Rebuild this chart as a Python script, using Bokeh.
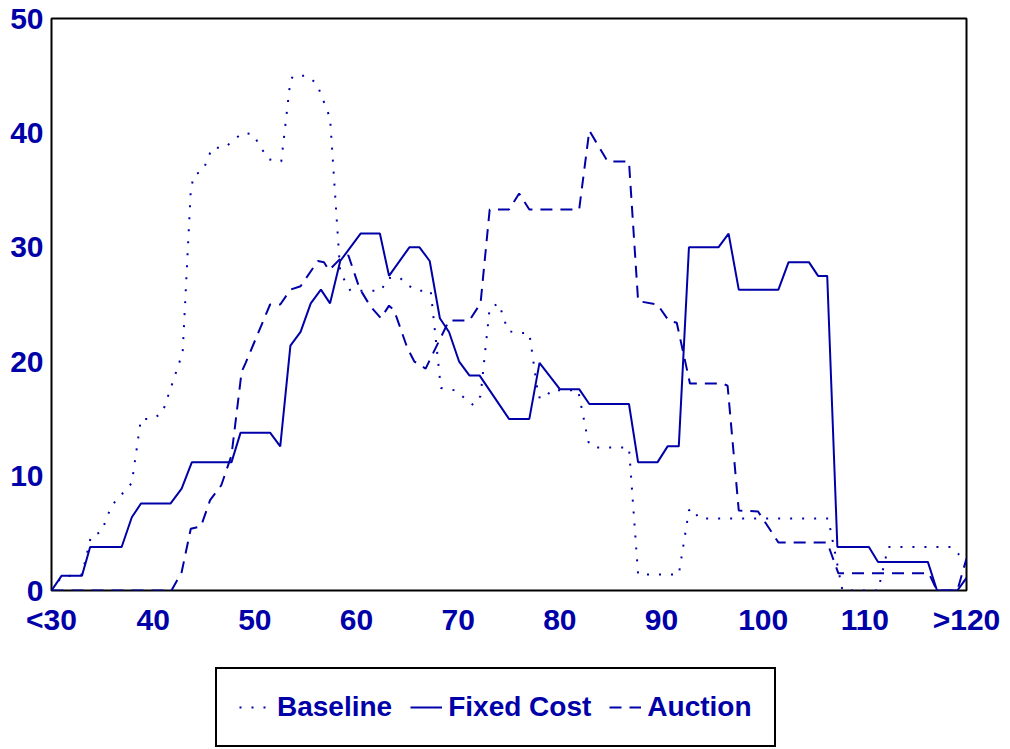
from bokeh.plotting import figure
from bokeh.models import Range1d, FixedTicker, Legend, LegendItem
from bokeh.layouts import column
from bokeh.embed import file_html
from bokeh.resources import INLINE

# ---- data ----
x_ticks = [30, 40, 50, 60, 70, 80, 90, 100, 110, 120]
x_tick_labels = ["<30", "40", "50", "60", "70", "80", "90", "100", "110", ">120"]
y_ticks = [0, 10, 20, 30, 40, 50]

baseline_x = [30.0, 31.0, 33.0, 33.9, 34.9, 35.9, 37.9, 38.8, 39.9, 40.9, 42.9, 43.7,
              44.0, 44.9, 45.8, 47.0, 48.8, 49.8, 51.3, 52.6, 53.5, 53.8, 55.1, 56.1,
              57.4, 58.4, 59.4, 62.4, 63.1, 64.2, 65.0, 66.0, 67.3, 68.3, 69.7, 71.5,
              72.2, 73.1, 74.0, 74.9, 75.8, 77.0, 77.9, 78.6, 79.1, 81.8, 82.8, 83.3,
              86.8, 87.7, 91.7, 92.7, 93.0, 93.7, 106.4, 107.4, 107.8, 111.3, 112.3,
              118.5, 119.2, 120.0]
baseline_y = [0, 1.2, 1.4, 4.8, 5.1, 7.4, 9.4, 15.0, 15.0, 15.5, 20.8, 35.0,
              36.3, 36.7, 38.7, 38.7, 40.0, 39.9, 37.7, 37.5, 44.6, 45.0, 45.0, 44.3,
              41.3, 27.8, 26.2, 26.2, 27.3, 27.4, 26.7, 26.2, 26.2, 17.7, 17.5, 16.2,
              17.0, 24.7, 25.1, 22.7, 22.5, 22.5, 16.9, 16.8, 17.5, 17.5, 13.0, 12.5,
              12.5, 1.4, 1.4, 7.0, 7.2, 6.3, 6.3, 1.8, 0, 0, 3.8,
              3.8, 3.2, 2.2]

fixed_x = [30.0, 31.0, 33.0, 33.8, 36.9, 37.9, 38.8, 41.7, 42.8, 43.8, 47.7, 48.6,
           51.5, 52.5, 53.5, 54.5, 55.5, 56.5, 57.4, 58.4, 60.4, 62.3, 63.2, 65.2,
           66.2, 67.2, 68.2, 69.1, 70.1, 71.1, 72.1, 75.0, 77.0, 78.0, 80.0, 81.9,
           82.9, 86.8, 87.7, 89.6, 90.6, 91.7, 92.7, 95.6, 96.6, 97.6, 101.5, 102.5,
           104.5, 105.4, 106.3, 107.3, 110.4, 111.3, 116.2, 117.1, 119.1, 120.0]
fixed_y = [0, 1.3, 1.3, 3.8, 3.8, 6.4, 7.6, 7.6, 8.9, 11.2, 11.2, 13.8,
           13.8, 12.6, 21.4, 22.6, 25.1, 26.3, 25.1, 28.8, 31.2, 31.2, 27.5, 30.0,
           30.0, 28.8, 23.8, 22.6, 20.0, 18.8, 18.8, 15.0, 15.0, 19.9, 17.6, 17.6,
           16.3, 16.3, 11.2, 11.2, 12.6, 12.6, 30.0, 30.0, 31.2, 26.3, 26.3, 28.7,
           28.7, 27.5, 27.5, 3.8, 3.8, 2.5, 2.5, 0, 0, 1.1]

auction_x = [30.0, 41.8, 42.8, 43.7, 44.7, 45.6, 46.7, 47.7, 48.7, 49.1, 51.5, 52.5,
             53.5, 54.5, 56.2, 56.8, 57.3, 58.4, 59.2, 60.3, 61.4, 62.4, 63.2, 63.7,
             65.0, 65.7, 66.8, 69.1, 71.1, 72.2, 73.1, 75.0, 76.0, 77.0, 81.9, 82.9,
             84.7, 86.8, 87.7, 89.6, 90.7, 91.5, 92.8, 96.0, 96.5, 97.6, 99.5, 101.5,
             106.3, 107.4, 116.3, 117.1, 119.1, 120.0]
auction_y = [0, 0, 1.6, 5.4, 5.6, 7.9, 9.2, 11.8, 19.1, 19.9, 25.0, 25.0,
             26.3, 26.6, 28.8, 28.7, 28.0, 29.0, 29.3, 26.4, 24.8, 23.8, 24.9, 24.5,
             21.2, 20.0, 19.4, 23.6, 23.6, 25.1, 33.3, 33.3, 34.7, 33.3, 33.3, 40.2,
             37.5, 37.5, 25.3, 25.0, 23.6, 23.4, 18.1, 18.1, 17.9, 7.0, 6.9, 4.2,
             4.2, 1.5, 1.5, 0, 0, 2.8]

series_names = ["Baseline", "Fixed Cost", "Auction"]

BLUE = "#0000A8"
FONT = "Liberation Sans"
STYLES = [dict(line_dash="2 10"), dict(line_dash="solid"), dict(line_dash="12 8")]
XS = [baseline_x, fixed_x, auction_x]
YS = [baseline_y, fixed_y, auction_y]

# ---------------- main chart ----------------
p = figure(width=1010, height=640,
           min_border_left=51, min_border_right=44, min_border_top=18, min_border_bottom=50,
           x_range=Range1d(30, 120), y_range=Range1d(0, 50),
           output_backend="svg", toolbar_location=None)

for xs, ys, st in zip(XS, YS, STYLES):
    p.line(xs, ys, line_color=BLUE, line_width=2, **st)

p.xaxis.ticker = FixedTicker(ticks=x_ticks)
p.xaxis.major_label_overrides = {t: l for t, l in zip(x_ticks, x_tick_labels)}
p.yaxis.ticker = FixedTicker(ticks=y_ticks)

for ax in (p.xaxis[0], p.yaxis[0]):
    ax.axis_line_color = None
    ax.major_tick_line_color = None
    ax.minor_tick_line_color = None
    ax.major_tick_out = 0
    ax.major_tick_in = 0
    ax.minor_tick_out = 0
    ax.minor_tick_in = 0
    ax.major_label_text_font = FONT
    ax.major_label_text_font_size = "30px"
    ax.major_label_text_font_style = "bold"
    ax.major_label_text_color = BLUE
p.xaxis.major_label_standoff = 12
p.yaxis.major_label_standoff = 8

p.grid.visible = False
p.outline_line_color = "black"
p.outline_line_width = 2
p.outline_line_alpha = 1.0
p.background_fill_color = "white"
p.border_fill_color = "white"

# ---------------- legend strip ----------------
# same series drawn with ranges that keep them out of view: only the legend shows
leg = figure(width=1010, height=109, min_border=0,
             x_range=Range1d(0, 1), y_range=Range1d(-2, -1),
             x_axis_type=None, y_axis_type=None,
             output_backend="svg", toolbar_location=None)
leg.grid.visible = False
leg.outline_line_color = None
leg.background_fill_color = "white"
leg.border_fill_color = "white"

items = []
for name, xs, ys, st in zip(series_names, XS, YS, STYLES):
    r = leg.line(xs, ys, line_color=BLUE, line_width=2, **st)
    items.append(LegendItem(label=name, renderers=[r]))

legend = Legend(items=items, orientation="horizontal", location=(164, 2),
                border_line_color="black", border_line_width=2, border_line_alpha=1.0,
                background_fill_color="white", background_fill_alpha=1.0,
                padding=22, spacing=18, margin=0,
                glyph_width=32, glyph_height=20, label_standoff=6,
                label_text_font=FONT, label_text_font_size="28px",
                label_text_font_style="bold", label_text_color=BLUE)
leg.add_layout(legend, "center")

layout = column(p, leg, spacing=0)
open("out.html", "w").write(file_html(layout, INLINE))
